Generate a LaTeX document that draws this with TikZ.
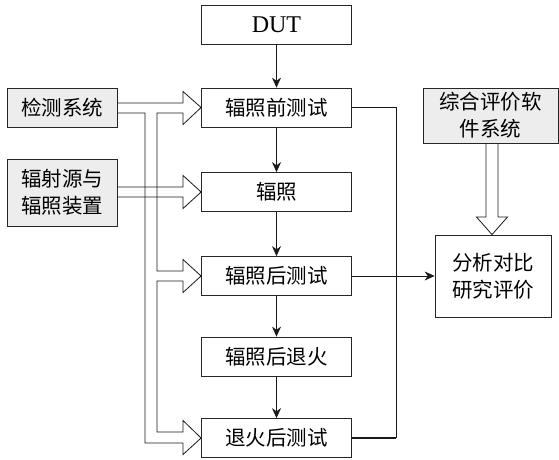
\documentclass[tikz,border=0pt]{standalone}
\usepackage{fontspec}
\setmainfont{Liberation Serif}
\newfontfamily\cjk{Noto Sans CJK SC}
\usetikzlibrary{arrows.meta,calc}
\begin{document}
\begin{tikzpicture}[x=1pt,y=-1pt,
  box/.style={draw=black!85,line width=0.8pt,minimum width=150pt,minimum height=39pt,inner sep=0pt,font=\cjk\fontsize{20.5}{27}\selectfont,align=center},
  graybox/.style={box,fill=black!7},
  link/.style={draw=black!90,line width=0.8pt},
  arr/.style={link,-{Stealth[length=10pt,width=9pt]}},
  hollow/.style={draw=black!90,line width=0.8pt,line join=miter}]
\useasboundingbox (0,0) rectangle (559,460);
% main column
\node[box,font=\fontsize{24}{26}\selectfont] (dut) at (276.5,24.5) {DUT};
\node[box] (pre) at (276.5,107.5) {辐照前测试};
\node[box] (irr) at (276.5,192) {辐照};
\node[box] (post) at (276.5,276) {辐照后测试};
\node[box] (ann) at (276.5,356.5) {辐照后退火};
\node[box] (fin) at (276.5,438) {退火后测试};
% left boxes
\node[graybox,minimum width=110pt,minimum height=39pt] (det) at (62,107.5) {检测系统};
\node[graybox,minimum width=110pt,minimum height=67pt] (src) at (62,192.5) {辐射源与\\辐照装置};
% right boxes
\node[graybox,minimum width=135pt,minimum height=55pt] (sw) at (490.5,115.5) {综合评价软\\件系统};
\node[box,minimum width=116pt,minimum height=82pt] (ana) at (493,276) {分析对比\\研究评价};
% vertical arrows
\draw[arr] (dut) -- (pre);
\draw[arr] (pre) -- (irr);
\draw[arr] (irr) -- (post);
\draw[arr] (post) -- (ann);
\draw[arr] (ann) -- (fin);
% right return line
\coordinate (rt) at (396,107.5);
\coordinate (rb) at (396,438);
\draw[link] (pre.east) -- (rt) -- (rb);
\draw[link,line width=1.8pt] (rb) -- (fin.east);
\draw[arr] (post.east) -- (ana.west);
% hollow arrow from detection system, branching to three tests
\draw[hollow] (det.east |- 0,103) -- (183,103) -- (183,91.5) -- (pre.west) -- (183,124.5) -- (183,113)
  -- (157,113) -- (157,271) -- (183,271) -- (183,259.5) -- (post.west) -- (183,292.5) -- (183,281)
  -- (157,281) -- (157,432) -- (183,432) -- (183,420.5) -- (fin.west) -- (183,454.5) -- (183,443)
  -- (145,443) -- (145,113) -- (det.east |- 0,113);
% hollow arrow from source to irradiation
\draw[hollow] (src.east |- 0,187) -- (183,187) -- (183,175.5) -- (irr.west) -- (183,208.5) -- (183,197) -- (src.east |- 0,197);
% hollow arrow from software to analysis
\draw[hollow] (486,0 |- sw.south) -- (486,217) -- (476.5,217) -- (492,0 |- ana.north) -- (507.5,217) -- (498,217) -- (498,0 |- sw.south);
\end{tikzpicture}
\end{document}
